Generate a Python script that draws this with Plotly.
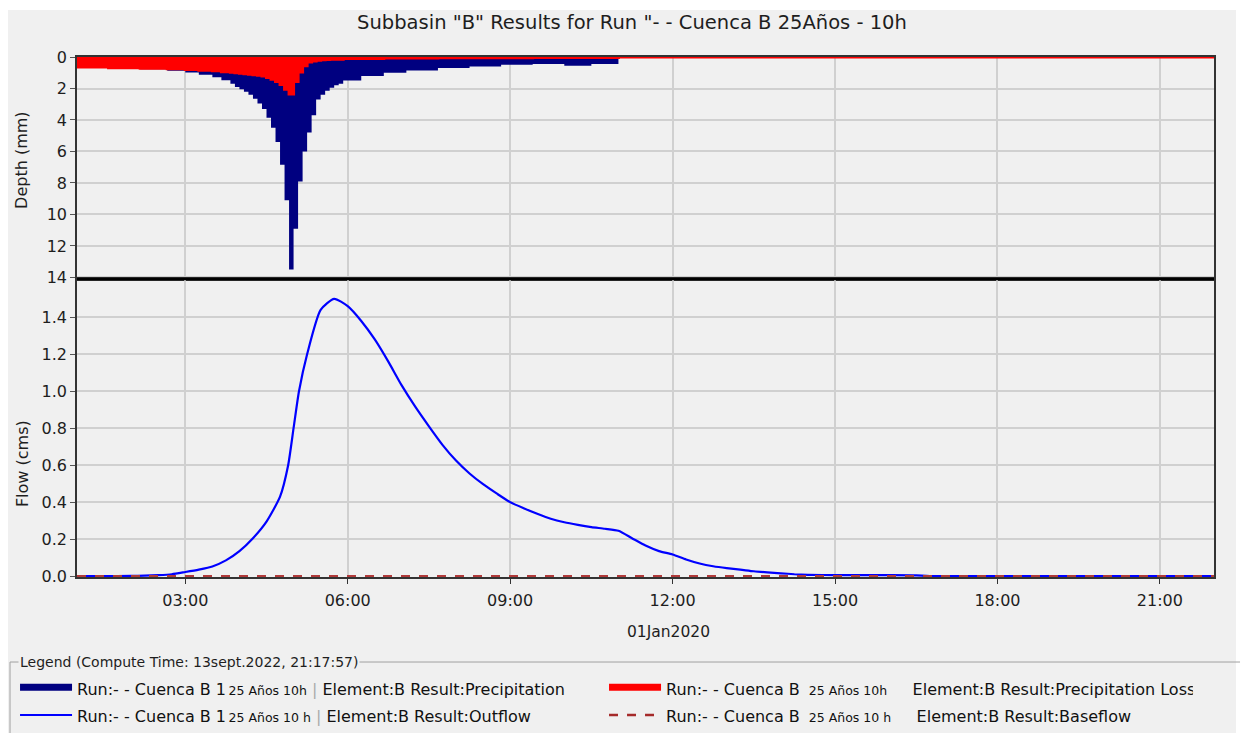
import plotly.graph_objects as go
from plotly.subplots import make_subplots
import pandas as pd

DAY = "2020-01-01 "

# Incremental depth per 5-minute interval, from 01:00 to 11:00 (mm)
precip_mm = [
    0.64, 0.64, 0.64, 0.64, 0.64, 0.64, 0.64,
    0.70, 0.70, 0.70, 0.70, 0.70, 0.70, 0.70,
    0.78, 0.78, 0.78, 0.78, 0.78, 0.78,
    0.88, 0.88, 0.88, 0.88,
    0.98, 0.98, 0.98,
    1.12, 1.12, 1.12,
    1.28, 1.28, 1.48, 1.48,
    1.70, 1.90, 2.05, 2.20, 2.40, 2.65, 2.95, 3.30, 3.85, 4.50, 5.40, 6.85, 9.10,
    13.50,
    10.90, 7.90, 6.00, 4.80, 3.70, 2.70, 2.40, 2.15, 1.95, 1.80, 1.70,
    1.50, 1.50, 1.50, 1.50,
    1.20, 1.20, 1.20, 1.20, 1.20,
    1.00, 1.00, 1.00, 1.00, 1.00,
    0.85, 0.85, 0.85, 0.85, 0.85, 0.85, 0.85,
    0.70, 0.70, 0.70, 0.70, 0.70, 0.70, 0.70,
    0.60, 0.60, 0.60, 0.60, 0.60, 0.60, 0.60,
    0.50, 0.50, 0.50, 0.50, 0.50, 0.50, 0.50,
    0.45, 0.45, 0.45, 0.45, 0.45, 0.45, 0.45,
    0.56, 0.56, 0.56, 0.56, 0.56, 0.56,
    0.44, 0.44, 0.44, 0.44, 0.44, 0.44,
]
loss_mm = [
    0.64, 0.64, 0.64, 0.64, 0.64, 0.64, 0.64,
    0.68, 0.68, 0.68, 0.68, 0.68, 0.68, 0.68,
    0.72, 0.72, 0.72, 0.72, 0.72, 0.72,
    0.75, 0.75, 0.75, 0.75,
    0.79, 0.79, 0.79,
    0.84, 0.84, 0.84,
    0.88, 0.88, 0.93, 0.93,
    0.97, 1.00, 1.03, 1.06, 1.09, 1.12, 1.16, 1.20, 1.30, 1.42, 1.55, 1.75, 2.05,
    2.35,
    1.55, 0.95, 0.55, 0.32, 0.25, 0.20, 0.18, 0.16, 0.14, 0.14, 0.14,
    0.10, 0.10, 0.10, 0.10,
    0.09, 0.09, 0.09, 0.09, 0.09,
    0.07, 0.07, 0.07, 0.07, 0.07,
    0.06, 0.06, 0.06, 0.06, 0.06, 0.06, 0.06,
    0.05, 0.05, 0.05, 0.05, 0.05, 0.05, 0.05,
    0.04, 0.04, 0.04, 0.04, 0.04, 0.04, 0.04,
    0.04, 0.04, 0.04, 0.04, 0.04, 0.04, 0.04,
    0.03, 0.03, 0.03, 0.03, 0.03, 0.03, 0.03,
    0.03, 0.03, 0.03, 0.03, 0.03, 0.03,
    0.03, 0.03, 0.03, 0.03, 0.03, 0.03,
]

# Outflow hydrograph (cms)
flow_time = ["01:00", "01:30", "02:00", "02:15", "02:30", "02:45", "03:00", "03:15",
             "03:30", "03:45", "04:00", "04:15", "04:30", "04:45", "04:54", "05:00",
             "05:06", "05:15", "05:30", "05:45", "06:00", "06:15", "06:30", "06:45",
             "07:00", "07:15", "07:30", "07:45", "08:00", "08:15", "08:30", "08:45",
             "09:00", "09:15", "09:30", "09:45", "10:00", "10:15", "10:30", "10:45",
             "11:00", "11:15", "11:30", "11:45", "12:00", "12:15", "12:30", "12:45",
             "13:00", "13:15", "13:30", "13:45", "14:00", "14:15", "14:30", "15:00",
             "16:00", "16:30", "16:45", "22:00"]
flow_cms = [0.000, 0.000, 0.001, 0.002, 0.005, 0.010, 0.022, 0.035,
            0.052, 0.085, 0.135, 0.205, 0.295, 0.430, 0.600, 0.800,
            1.000, 1.200, 1.440, 1.500, 1.460, 1.380, 1.280, 1.160,
            1.030, 0.915, 0.810, 0.710, 0.625, 0.555, 0.497, 0.447,
            0.400, 0.367, 0.337, 0.310, 0.291, 0.277, 0.265, 0.256,
            0.245, 0.205, 0.165, 0.135, 0.117, 0.090, 0.068, 0.053,
            0.043, 0.035, 0.026, 0.020, 0.015, 0.010, 0.007, 0.005,
            0.005, 0.004, 0.000, 0.000]

baseflow_time = ["01:00", "22:00"]
baseflow_cms = [0.0, 0.0]

hour_ticks = ["03:00", "06:00", "09:00", "12:00", "15:00", "18:00", "21:00"]

run_a = ["Run:- - Cuenca B 1", "Run:- - Cuenca B ", "Run:- - Cuenca B 1", "Run:- - Cuenca B "]
run_b = ["\u200925 Años 10h", " 25 Años 10h", "\u200925 Años 10 h", " 25 Años 10 h"]
element = ["Element:B Result:Precipitation", "Element:B Result:Precipitation Loss",
           "Element:B Result:Outflow", "Element:B Result:Baseflow"]
sep = [" <span style='color:#aaaaaa'>|</span> ", "&nbsp;&nbsp;&nbsp;&nbsp; ",
       " <span style='color:#aaaaaa'>|</span> ", "&nbsp;&nbsp;&nbsp;&nbsp; "]

FONT = "DejaVu Sans, Liberation Sans, sans-serif"
INK = '#1e1e1e'

#%% step series for the hyetograph
steps = pd.date_range(DAY + "01:00", periods=len(precip_mm), freq="5min")
end_storm = pd.Timestamp(DAY + "11:00")
end_run = pd.Timestamp(DAY + "22:00")

x_p = list(steps) + [end_storm]
y_p = precip_mm + [0.0]
x_l = list(steps) + [end_storm, end_run]
y_l = loss_mm + [0.0, 0.0]

fig = make_subplots(rows=2, cols=1, shared_xaxes=True, vertical_spacing=0,
                    row_heights=[0.427, 0.573])

fig.add_trace(go.Scatter(x=x_p, y=y_p, mode='lines', line=dict(color='#000080', width=0, shape='hv'),
                         fill='tozeroy', fillcolor='#000080', showlegend=False), row=1, col=1)
fig.add_trace(go.Scatter(x=x_l, y=y_l, mode='lines', line=dict(color='#ff0000', width=3, shape='hv'),
                         fill='tozeroy', fillcolor='#ff0000', showlegend=False), row=1, col=1)

fig.add_trace(go.Scatter(x=pd.to_datetime([DAY + t for t in flow_time]), y=flow_cms, mode='lines',
                         line=dict(color='#0000ff', width=2.2, shape='spline', smoothing=0.6),
                         showlegend=False), row=2, col=1)
fig.add_trace(go.Scatter(x=pd.to_datetime([DAY + t for t in baseflow_time]), y=baseflow_cms, mode='lines',
                         line=dict(color='#b03a3a', width=2, dash='dash'),
                         showlegend=False), row=2, col=1)

# legend entries (legend font sets the row pitch, the spans set the visible size)
leg_style = [dict(color='#000080', width=7), dict(color='#ff0000', width=7),
             dict(color='#0000ff', width=2), dict(color='#a52a2a', width=2.5, dash='dash')]
for a, b, s, e, st in zip(run_a, run_b, sep, element, leg_style):
    nm = ("<span style='font-size:16px'>" + a + "<span style='font-size:12.5px'>" + b + "</span>"
          + s + e + "</span>")
    fig.add_trace(go.Scatter(x=[None], y=[None], mode='lines', line=st, name=nm), row=2, col=1)

grid = '#d0d0d0'
tickvals = pd.to_datetime([DAY + t for t in hour_ticks])
for r in (1, 2):
    fig.update_xaxes(range=[DAY + "01:00", DAY + "22:00"], tickvals=tickvals, ticktext=hour_ticks,
                     showgrid=True, gridcolor=grid, gridwidth=1.5,
                     showline=True, linecolor='#333333', linewidth=1.5, mirror=True,
                     zeroline=False, row=r, col=1)
fig.update_xaxes(showticklabels=False, ticks='', layer='below traces', row=1, col=1)
fig.update_xaxes(ticks='outside', ticklen=5, tickcolor='#333333', ticklabelstandoff=3,
                 tickfont=dict(size=16), row=2, col=1)

fig.update_yaxes(range=[14.1, 0], tickvals=[0, 2, 4, 6, 8, 10, 12, 14], ticks='outside', ticklen=5,
                 tickcolor='#555555', showgrid=True, gridcolor=grid, gridwidth=1.5,
                 showline=True, linecolor='#333333', linewidth=1.5, mirror=True, zeroline=False,
                 tickfont=dict(size=16), layer='below traces', row=1, col=1)
fig.update_yaxes(range=[-0.005, 1.607], tickvals=[0, 0.2, 0.4, 0.6, 0.8, 1.0, 1.2, 1.4],
                 tickformat='.1f', ticks='outside', ticklen=5, tickcolor='#555555',
                 showgrid=True, gridcolor=grid, gridwidth=1.5,
                 showline=True, linecolor='#333333', linewidth=1.5, mirror=True, zeroline=False,
                 tickfont=dict(size=16), row=2, col=1)

# page frame, panel separator and legend group box
fig.add_shape(type='rect', xref='paper', yref='paper', x0=-0.0607, x1=1.0194, y0=-0.31, y1=1.0904,
              fillcolor='#f0f0f0', line=dict(width=0), layer='below')
fig.add_shape(type='line', xref='paper', yref='paper', x0=0, x1=1, y0=0.573, y1=0.573,
              line=dict(color='black', width=2.5))
fig.add_shape(type='line', xref='paper', yref='paper', x0=-0.0589, x1=1.0229, y0=-0.1635, y1=-0.1635,
              line=dict(color='#a0a0a0', width=1))
fig.add_shape(type='line', xref='paper', yref='paper', x0=-0.0589, x1=-0.0589, y0=-0.1635, y1=-0.31,
              line=dict(color='#a0a0a0', width=1))

fig.add_annotation(text="Legend (Compute Time: 13sept.2022, 21:17:57)", xref='paper', yref='paper',
                   x=-0.0519, y=-0.1635, xanchor='left', yanchor='middle', showarrow=False,
                   bgcolor='#f0f0f0', font=dict(size=14, color=INK, family=FONT))
fig.add_annotation(text="01Jan2020", xref='x2', yref='paper', x=DAY + "12:00", y=-0.106,
                   xshift=-4, yanchor='middle', showarrow=False,
                   font=dict(size=15.5, color=INK, family=FONT))
fig.add_annotation(text="Depth (mm)", xref='paper', yref='paper', x=-0.0484, y=0.802, textangle=-90,
                   xanchor='center', yanchor='middle', showarrow=False,
                   font=dict(size=16, color=INK, family=FONT))
fig.add_annotation(text="Flow (cms)", xref='paper', yref='paper', x=-0.0484, y=0.219, textangle=-90,
                   xanchor='center', yanchor='middle', showarrow=False,
                   font=dict(size=16, color=INK, family=FONT))

# page body adds an 8px margin, so the figure is 8px smaller than the window
fig.update_layout(
    width=1242, height=725,
    margin=dict(l=69, r=36, t=49, b=156, autoexpand=False),
    paper_bgcolor='white', plot_bgcolor='white',
    font=dict(family=FONT, size=16, color=INK),
    title=dict(text='Subbasin "B" Results for Run "- - Cuenca B 25Años - 10h',
               x=0.5024, xanchor='center', y=0.981, yanchor='middle',
               font=dict(size=19.5, color=INK, family=FONT)),
    legend=dict(orientation='h', x=-0.0545, xanchor='left', y=-0.176, yanchor='top',
                entrywidth=522, entrywidthmode='pixels', itemwidth=52,
                font=dict(size=19, color='#111111', family=FONT),
                bgcolor='rgba(0,0,0,0)', traceorder='normal'),
)

fig.write_html("out.html")
